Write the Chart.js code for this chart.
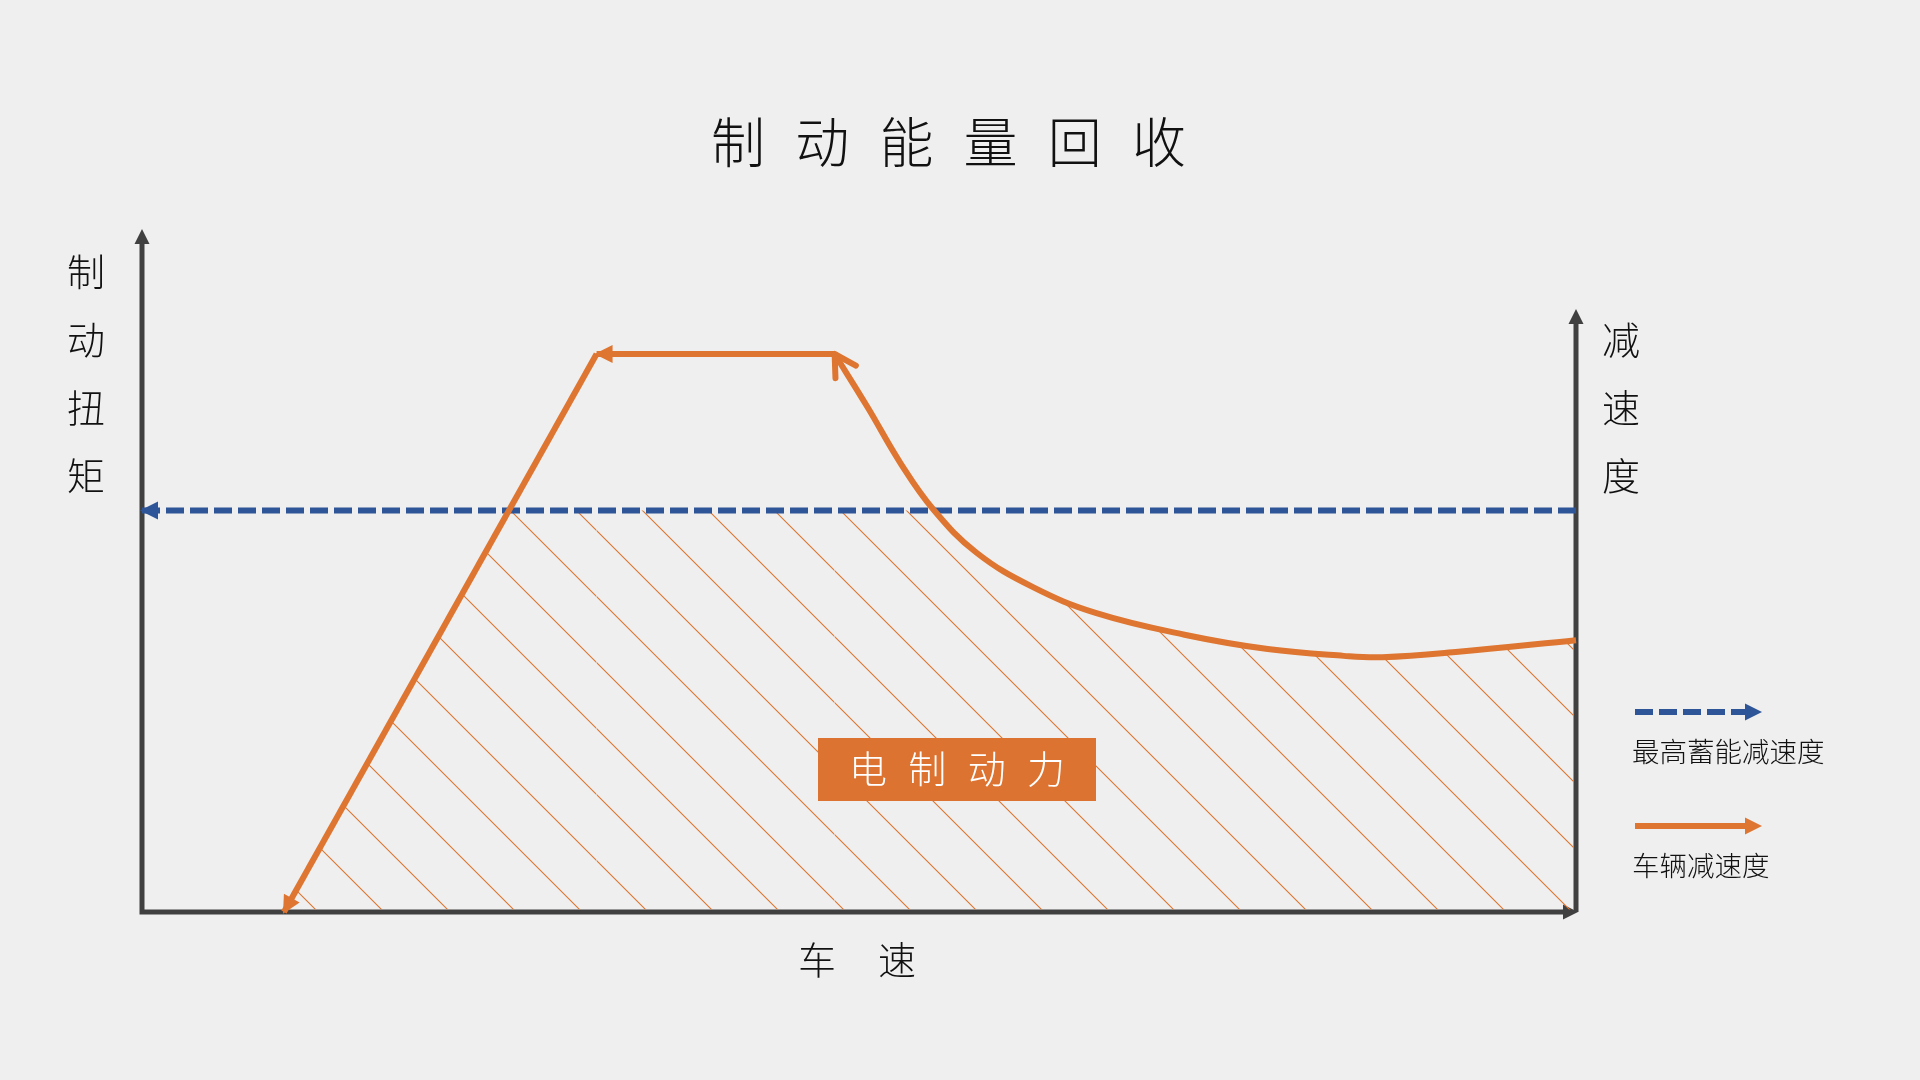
<!DOCTYPE html>
<html lang="zh-CN">
<head>
<meta charset="utf-8">
<title>制动能量回收</title>
<script src="https://cdn.jsdelivr.net/npm/chart.js@4.4.1/dist/chart.umd.min.js"></script>
<style>
  html, body { margin: 0; padding: 0; background: #efefef; }
  #wrap { width: 1920px; height: 1080px; }
</style>
</head>
<body>
<div id="wrap"><canvas id="brakeChart" width="1920" height="1080"></canvas></div>
<script>
// 曲线数据 (x: 车速 0-100, y: 0-100)
const rampSpeed = [9.9, 31.7];
const rampTorque = [0, 81.7];
const flatSpeed = [31.7, 48.3];
const flatTorque = [81.7, 81.7];
const curveSpeed = [48.3, 50.6, 52.9, 55.2, 58.2, 62.1, 66.5, 72.7, 78.5, 83.8, 86.5, 91.8, 100];
const curveDecel = [81.7, 73.9, 65.7, 58.9, 52.6, 47.6, 43.8, 40.6, 38.5, 37.5, 37.3, 38.1, 39.8];
const limitSpeed = [0, 100];
const limitDecel = [58.8, 58.8];

// 文字
const chartTitle = '制动能量回收';
const torqueTitle = '制动扭矩';
const decelTitle = '减速度';
const speedTitle = '车速';
const regenLabel = '电制动力';
const legendLabels = ['最高蓄能减速度', '车辆减速度'];

const ORANGE = '#de7530';
const BLUE = '#2e5597';
const AXIS = '#404040';
const FONT = "'Noto Sans CJK SC', 'Noto Sans', sans-serif";
const LINE_W = 6;
const decelAxisTop = 88.3; // 右侧轴的高度

const toXY = (xs, ys) => xs.map((x, i) => ({x: x, y: ys[i]}));

function makeHatch(color, gap) {
  const c = document.createElement('canvas');
  c.width = gap; c.height = gap;
  const g = c.getContext('2d');
  g.strokeStyle = color;
  g.lineWidth = 1.1;
  g.beginPath();
  g.moveTo(-2, -2); g.lineTo(gap + 2, gap + 2);
  g.moveTo(gap - 2, -2); g.lineTo(gap + 2, 2);
  g.moveTo(-2, gap - 2); g.lineTo(2, gap + 2);
  g.stroke();
  return g.createPattern(c, 'repeat');
}
const hatch = makeHatch(ORANGE, 66);

function arrowHead(ctx, tx, ty, ux, uy, len, half, color, open) {
  const bx = tx - ux * len, by = ty - uy * len;
  const px = -uy, py = ux;
  ctx.save();
  ctx.beginPath();
  if (open) {
    ctx.strokeStyle = color;
    ctx.lineWidth = LINE_W;
    ctx.lineCap = 'round';
    ctx.lineJoin = 'round';
    ctx.moveTo(bx + px * half, by + py * half);
    ctx.lineTo(tx, ty);
    ctx.lineTo(bx - px * half, by - py * half);
    ctx.stroke();
  } else {
    ctx.fillStyle = color;
    ctx.moveTo(tx, ty);
    ctx.lineTo(bx + px * half, by + py * half);
    ctx.lineTo(bx - px * half, by - py * half);
    ctx.closePath();
    ctx.fill();
  }
  ctx.restore();
}

function spaced(ctx, text, cx, cy, step, vertical) {
  const chars = [...text];
  chars.forEach((ch, i) => {
    const off = (i - (chars.length - 1) / 2) * step;
    ctx.fillText(ch, vertical ? cx : cx + off, vertical ? cy + off : cy);
  });
}

let hatchOpen = false;

const decoPlugin = {
  id: 'deco',
  beforeDatasetsDraw(chart) {
    const {ctx, chartArea: a, scales: {y}} = chart;
    // 坐标轴
    ctx.save();
    ctx.strokeStyle = AXIS;
    ctx.lineWidth = 5;
    ctx.beginPath();
    ctx.moveTo(a.left, a.bottom + 2.5);
    ctx.lineTo(a.left, a.top + 8);
    ctx.moveTo(a.left - 2.5, a.bottom);
    ctx.lineTo(a.right - 8, a.bottom);
    const rTop = y.getPixelForValue(decelAxisTop);
    ctx.moveTo(a.right, a.bottom);
    ctx.lineTo(a.right, rTop + 8);
    ctx.stroke();
    ctx.restore();
    arrowHead(ctx, a.left, a.top, 0, -1, 15, 7.5, AXIS);
    arrowHead(ctx, a.right + 2, a.bottom, 1, 0, 15, 7.5, AXIS);
    arrowHead(ctx, a.right, rTop, 0, -1, 15, 7.5, AXIS);

    // 阴影区只画在最高蓄能减速度以下
    const top = y.getPixelForValue(limitDecel[0]);
    ctx.save();
    ctx.beginPath();
    ctx.rect(a.left + 2.5, top, a.right - a.left - 5, a.bottom - 2.5 - top);
    ctx.clip();
    hatchOpen = true;
  },
  beforeDatasetDraw(chart, args) {
    if (hatchOpen && !chart.data.datasets[args.index].hatch) {
      chart.ctx.restore();
      hatchOpen = false;
    }
  },
  afterDatasetsDraw(chart) {
    const ctx = chart.ctx;
    if (hatchOpen) { ctx.restore(); hatchOpen = false; }
    chart.data.datasets.forEach((ds, i) => {
      if (!ds.arrowStart) return;
      const pts = chart.getDatasetMeta(i).data;
      const p = pts[0];
      let rx = p.cp2x, ry = p.cp2y;
      if (rx === undefined || Math.hypot(rx - p.x, ry - p.y) < 0.5) { rx = pts[1].x; ry = pts[1].y; }
      const d = Math.hypot(p.x - rx, p.y - ry);
      const ux = (p.x - rx) / d, uy = (p.y - ry) / d;
      if (ds.arrowStart === 'open') {
        arrowHead(ctx, p.x, p.y, ux, uy, 21, 12, ds.borderColor, true);
      } else {
        arrowHead(ctx, p.x + ux * 2, p.y + uy * 2, ux, uy, 18, 9, ds.borderColor);
      }
    });
  },
  afterDraw(chart) {
    const ctx = chart.ctx;
    ctx.save();
    ctx.textAlign = 'center';
    ctx.textBaseline = 'middle';
    ctx.fillStyle = '#111';
    ctx.font = '300 54px ' + FONT;
    spaced(ctx, chartTitle, 948.5, 142, 84.2);
    ctx.font = '300 38px ' + FONT;
    spaced(ctx, torqueTitle, 86, 374, 68, true);
    spaced(ctx, decelTitle, 1621, 408, 68, true);
    spaced(ctx, speedTitle, 857, 960, 80);

    // 电制动力 标签
    ctx.fillStyle = '#dc7331';
    ctx.fillRect(818, 738, 278, 63);
    ctx.fillStyle = '#ffffff';
    spaced(ctx, regenLabel, 957, 769, 59.3);

    // 图例
    ctx.lineWidth = LINE_W;
    ctx.strokeStyle = BLUE;
    ctx.setLineDash([18, 6]);
    ctx.beginPath();
    ctx.moveTo(1635, 712); ctx.lineTo(1747, 712);
    ctx.stroke();
    ctx.setLineDash([]);
    arrowHead(ctx, 1762, 712, 1, 0, 17, 8.5, BLUE);
    ctx.strokeStyle = ORANGE;
    ctx.beginPath();
    ctx.moveTo(1635, 826); ctx.lineTo(1747, 826);
    ctx.stroke();
    arrowHead(ctx, 1762, 826, 1, 0, 17, 8.5, ORANGE);

    ctx.fillStyle = '#111';
    ctx.textAlign = 'left';
    ctx.font = '300 27.5px ' + FONT;
    ctx.fillText(legendLabels[0], 1632, 752);
    ctx.fillText(legendLabels[1], 1632, 866);
    ctx.restore();
  }
};

const hatchBase = {hatch: true, fill: 'origin', backgroundColor: hatch, borderColor: 'rgba(0,0,0,0)', borderWidth: 0, pointRadius: 0};

new Chart(document.getElementById('brakeChart'), {
  type: 'line',
  data: {
    datasets: [
      Object.assign({label: 'hatch-ramp', data: toXY(rampSpeed, rampTorque), order: 12}, hatchBase),
      Object.assign({label: 'hatch-flat', data: toXY(flatSpeed, flatTorque), order: 11}, hatchBase),
      Object.assign({label: 'hatch-curve', data: toXY(curveSpeed, curveDecel), order: 10, tension: 0.4}, hatchBase),
      {
        label: legendLabels[0],
        data: toXY(limitSpeed, limitDecel),
        borderColor: BLUE,
        borderWidth: LINE_W,
        borderDash: [18, 6],
        pointRadius: 0,
        fill: false,
        clip: false,
        arrowStart: 'fill',
        order: 3
      },
      {
        label: torqueTitle,
        data: toXY(rampSpeed, rampTorque),
        borderColor: ORANGE,
        borderWidth: LINE_W,
        pointRadius: 0,
        fill: false,
        clip: false,
        arrowStart: 'fill',
        order: 2
      },
      {
        label: torqueTitle + ' 恒定',
        data: toXY(flatSpeed, flatTorque),
        borderColor: ORANGE,
        borderWidth: LINE_W,
        pointRadius: 0,
        fill: false,
        clip: false,
        arrowStart: 'fill',
        order: 2
      },
      {
        label: legendLabels[1],
        data: toXY(curveSpeed, curveDecel),
        borderColor: ORANGE,
        borderWidth: LINE_W,
        pointRadius: 0,
        fill: false,
        clip: false,
        tension: 0.4,
        arrowStart: 'open',
        order: 1
      }
    ]
  },
  options: {
    responsive: false,
    devicePixelRatio: 1,
    animation: false,
    layout: {padding: {left: 142, right: 344, top: 229, bottom: 168}},
    scales: {
      x: {type: 'linear', min: 0, max: 100, display: false},
      y: {type: 'linear', min: 0, max: 100, display: false}
    },
    plugins: {
      legend: {display: false},
      title: {display: false},
      tooltip: {enabled: false}
    }
  },
  plugins: [decoPlugin]
});
</script>
</body>
</html>
